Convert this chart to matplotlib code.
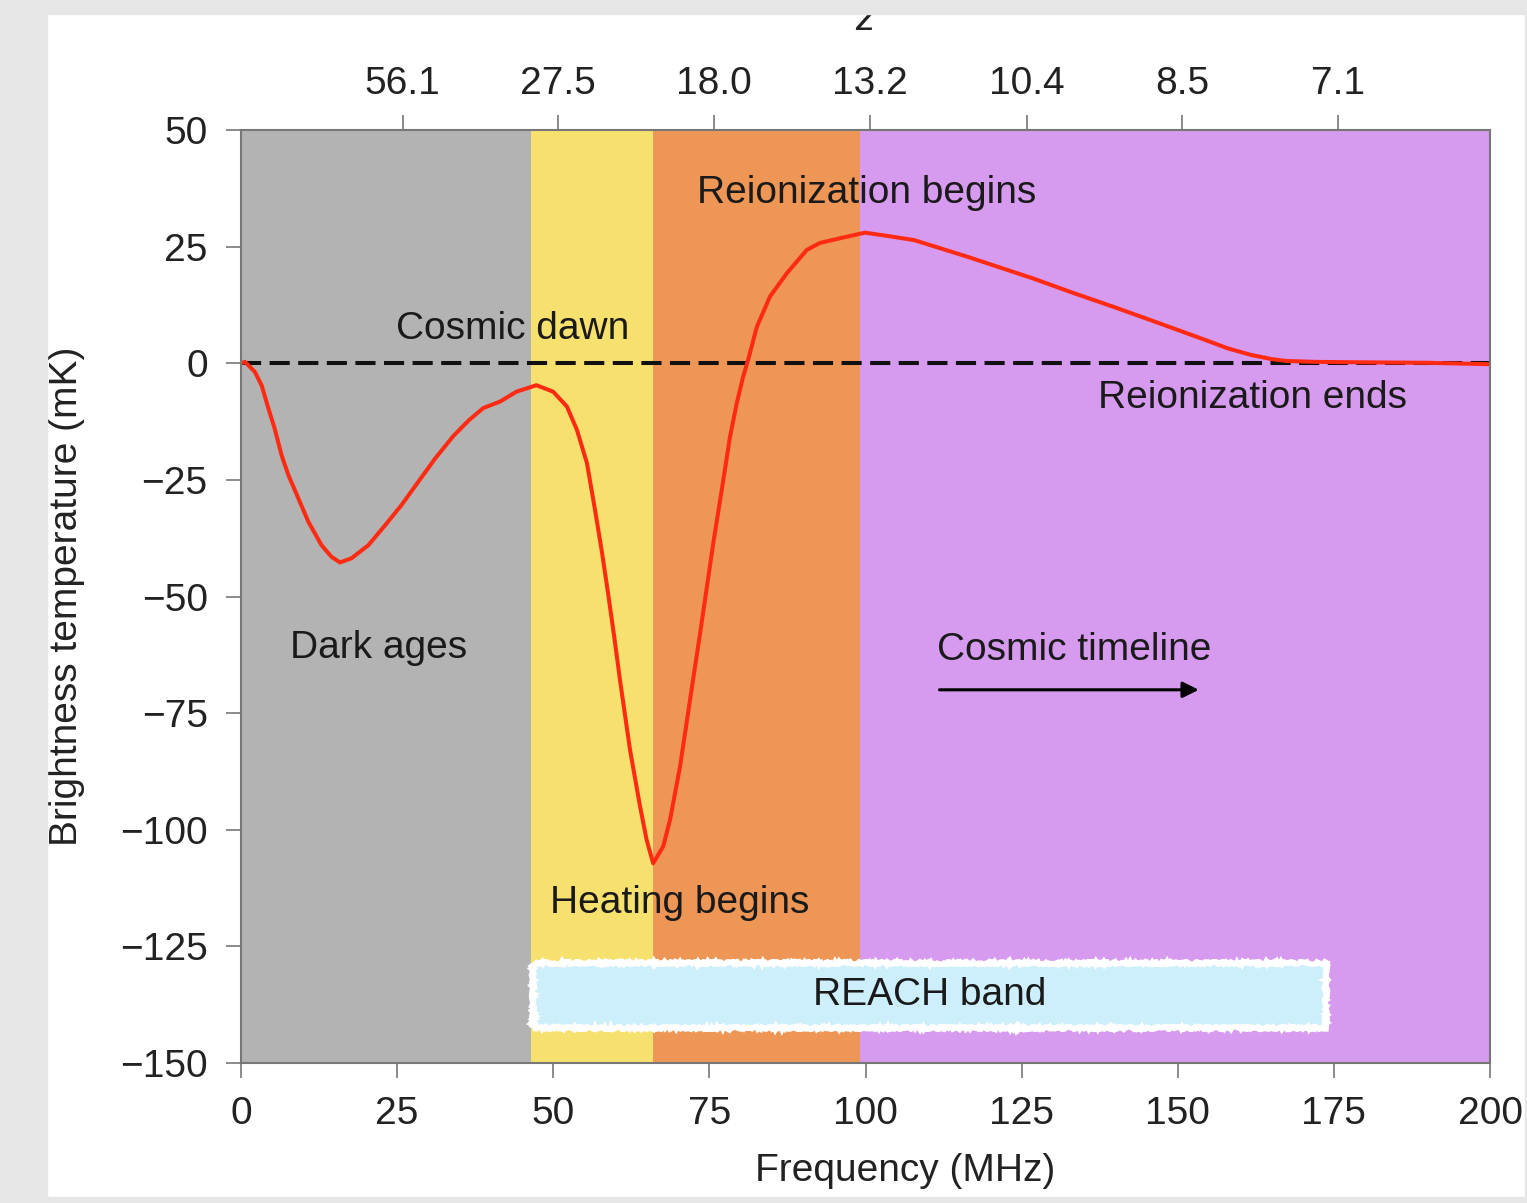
import matplotlib.pyplot as plt
from matplotlib.patches import Rectangle, FancyArrowPatch

plt.rcParams['font.family'] = ['Liberation Sans', 'DejaVu Sans']

# 21-cm global signal
freq = [0.0, 0.64, 2.2, 3.3, 4.4, 5.4, 6.5, 7.6, 9.2, 10.8, 12.9, 14.5, 15.85,
        17.7, 20.4, 23.1, 25.7, 28.4, 31.1, 34, 36.5, 38.8, 41.5, 44.1, 47.3,
        50.0, 52.2, 53.8, 55.4, 56.7, 57.8, 58.8, 59.7, 60.7, 62.3, 63.9, 64.96,
        66.0, 67.6, 68.7, 70.3, 71.9, 73.5, 75.6, 77.0, 78.3, 79.4, 80.4, 81.2,
        82.6, 84.7, 87.4, 90.6, 92.7, 95.9, 99.9, 103.5, 107.8, 116.4, 126.8,
        133, 139.7, 147, 154.4, 158, 161.7, 165, 167.3, 172, 180, 190, 200]
temp = [0.0, 0.3, -1.8, -4.7, -9.7, -14, -19.7, -24, -29, -34, -39, -41.5,
        -42.7, -41.8, -39, -34.7, -30.4, -25.4, -20.4, -15.6, -12.2, -9.6, -8.2,
        -6.1, -4.7, -6.1, -9.3, -14.3, -21.4, -31.5, -40.5, -49.5, -58, -68,
        -82.9, -95, -102.2, -107.2, -103.6, -97.9, -86.5, -72.2, -58, -38.8,
        -27, -15.8, -8.5, -2.9, 0.7, 7.8, 14.3, 19.3, 24.3, 25.8, 26.8, 28.0,
        27.3, 26.4, 22.8, 18.2, 15.2, 12.1, 8.6, 5.0, 3.2, 1.8, 0.9, 0.5, 0.3,
        0.2, 0.1, -0.2]

# epochs (MHz edges) and colours
band_edges = [0, 46.4, 66.0, 99.1, 200]
band_colors = ['#b3b3b3', '#f7e16e', '#ee9656', '#d69aee']

z_ticks = [25.9, 50.8, 75.7, 100.7, 125.9, 150.7, 175.7]
z_labels = ['56.1', '27.5', '18.0', '13.2', '10.4', '8.5', '7.1']

reach_lo, reach_hi = 46.7, 173.8

fig = plt.figure(figsize=(15.27, 12.03), dpi=100)
ax = fig.add_axes([0.1578, 0.1164, 0.8180, 0.7755])

for i in range(len(band_colors)):
    ax.axvspan(band_edges[i], band_edges[i + 1], color=band_colors[i], lw=0, zorder=0)

ax.axhline(0, color='#111111', lw=2.9, ls=(0, (5, 2.1)), zorder=2)
ax.plot(freq, temp, color='#ff2a12', lw=2.9, zorder=3, solid_joinstyle='round')

# REACH band box
box = Rectangle((reach_lo, -142.5), reach_hi - reach_lo, 13.9, facecolor='#cdeefb',
                edgecolor='white', lw=4, zorder=4)
box.set_sketch_params(scale=1.2, length=4, randomness=8)
ax.add_patch(box)
ax.text((reach_lo + reach_hi) / 2, -135.5, 'REACH band', ha='center', va='center',
        fontsize=28, color='#1a1a1a', zorder=5)

tc = '#1a1a1a'
fs = 28
ax.text(24.8, 7.4, 'Cosmic dawn', fontsize=fs, color=tc, va='center')
ax.text(73.0, 36.5, 'Reionization begins', fontsize=fs, color=tc, va='center')
ax.text(137.2, -7.4, 'Reionization ends', fontsize=fs, color=tc, va='center')
ax.text(7.8, -61, 'Dark ages', fontsize=fs, color=tc, va='center')
ax.text(111.4, -61.5, 'Cosmic timeline', fontsize=fs, color=tc, va='center')
ax.text(49.5, -115.7, 'Heating begins', fontsize=fs, color=tc, va='center')
ax.add_patch(FancyArrowPatch((111.4, -70), (153.8, -70), arrowstyle='-|>',
                             mutation_scale=24, color='black', lw=2.2, zorder=5))

ax.set_xlim(0, 200)
ax.set_ylim(-150, 50)
ax.set_xticks(range(0, 201, 25))
ax.set_yticks(range(-150, 51, 25))
ax.set_yticklabels([str(v).replace('-', '\u2212') for v in range(-150, 51, 25)])

sc = '#777777'
for s in ax.spines.values():
    s.set_color(sc)
    s.set_linewidth(1.5)
    s.set_zorder(6)
ax.tick_params(length=11, width=1.2, color=sc, labelsize=28, labelcolor='#222222', pad=13)

ax.set_xlabel('Frequency (MHz)', fontsize=28, color='#222222')
ax.xaxis.set_label_coords(0.532, -0.096)
ax.set_ylabel('Brightness temperature (mK)', fontsize=28, color='#222222')
ax.yaxis.set_label_coords(-0.125, 0.5)

top = ax.secondary_xaxis('top')
top.set_xticks(z_ticks)
top.set_xticklabels(z_labels)
top.tick_params(length=11, width=1.2, color=sc, labelsize=28, labelcolor='#222222', pad=9)
top.spines['top'].set_visible(False)
fig.text(865 / 1527, 1 - 20 / 1203, 'z', style='italic', fontsize=28, ha='center',
         va='center', color='#222222')

# grey frame around the white page
g = '#e6e6e6'
fig.patches.append(Rectangle((0, 0), 47 / 1527, 1, transform=fig.transFigure, color=g, zorder=10))
fig.patches.append(Rectangle((0, 1 - 14 / 1203), 1, 14 / 1203, transform=fig.transFigure, color=g, zorder=10))
fig.patches.append(Rectangle((0, 0), 1, 6 / 1203, transform=fig.transFigure, color=g, zorder=10))
fig.patches.append(Rectangle((1 - 2 / 1527, 0), 2 / 1527, 1, transform=fig.transFigure, color=g, zorder=10))

fig.savefig('out.png', dpi=100)
